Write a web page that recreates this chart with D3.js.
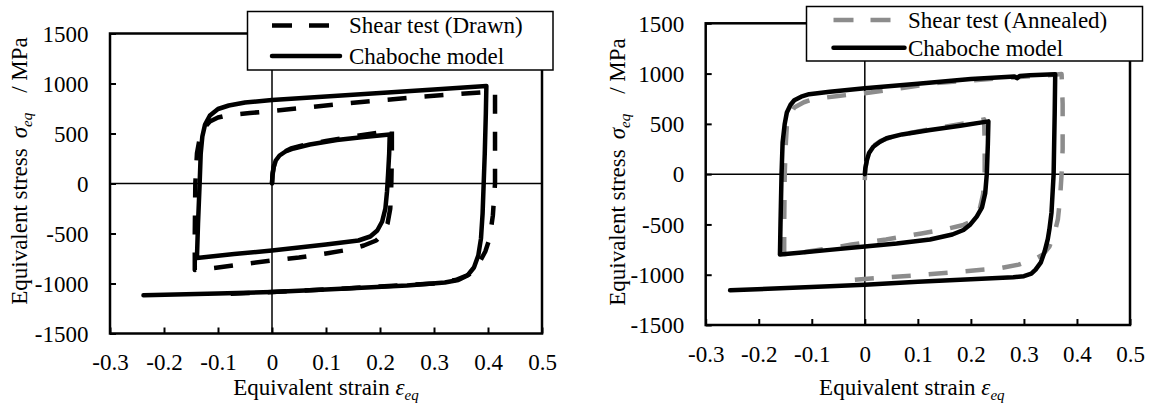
<!DOCTYPE html>
<html><head><meta charset="utf-8">
<script src="https://cdn.jsdelivr.net/npm/d3@7"></script>
</head><body style="margin:0;background:#fff">
<svg id="chart" width="1149" height="406" style="display:block;font-family:'Liberation Serif'"></svg>
<script>
const FONT = "Liberation Serif";
// ---------- tick values & labels ----------
const strainTicks = [-0.3,-0.2,-0.1,0,0.1,0.2,0.3,0.4,0.5];
const strainTickLabels = ["-0.3","-0.2","-0.1","0","0.1","0.2","0.3","0.4","0.5"];
const stressTicks = [-1500,-1000,-500,0,500,1000,1500];
const stressTickLabels = ["-1500","-1000","-500","0","500","1000","1500"];

// ---------- left panel: Drawn ----------
const drawnTestStrain = [0,0.001,0.004,0.01,0.02,0.035,0.06,0.1,0.15,0.2,0.222,0.222,0.221,0.219,0.214,0.206,0.193,0.17,0.144,0.1,0.05,0,-0.05,-0.1,-0.143,-0.143,-0.142,-0.139,-0.134,-0.125,-0.115,-0.1,-0.08,-0.041,0,0.05,0.144,0.28,0.413,0.413,0.413,0.409,0.403,0.395,0.383,0.365,0.34,0.3,0.2,0.1,0,-0.085];
const drawnTestStress = [0,100,190,255,310,350,385,425,470,510,540,300,0,-250,-400,-500,-570,-620,-660,-700,-740,-770,-805,-840,-865,-500,0,300,450,560,620,660,685,705,725,752,804,870,920,500,0,-320,-550,-680,-800,-910,-965,-1000,-1030,-1060,-1085,-1105];
const drawnModelStrain = [0,0.001,0.003,0.007,0.014,0.025,0.04,0.07,0.12,0.17,0.218,0.217,0.215,0.213,0.21,0.204,0.195,0.182,0.16,0.1,0,-0.07,-0.139,-0.137,-0.134,-0.132,-0.129,-0.124,-0.115,-0.1,-0.08,-0.05,0,0.1,0.2,0.3,0.397,0.396,0.394,0.392,0.39,0.387,0.382,0.374,0.362,0.345,0.32,0.25,0.1,0,-0.1,-0.238];
const drawnModelStress = [0,80,160,230,280,320,350,390,435,465,490,300,100,-80,-250,-380,-470,-530,-570,-610,-670,-705,-745,-400,0,300,470,590,680,745,780,810,835,870,905,940,975,700,300,0,-300,-550,-720,-840,-920,-965,-990,-1020,-1060,-1085,-1100,-1118];

// ---------- right panel: Annealed ----------
const annealedTestStrain = [0,0.001,0.004,0.008,0.016,0.03,0.05,0.1,0.15,0.2,0.225,0.226,0.226,0.223,0.217,0.207,0.195,0.186,0.15,0.107,0.04,-0.025,-0.07,-0.113,-0.152,-0.152,-0.151,-0.149,-0.147,-0.14,-0.133,-0.115,-0.098,-0.05,0,0.142,0.28,0.342,0.371,0.373,0.373,0.371,0.368,0.364,0.357,0.348,0.336,0.322,0.308,0.29,0.255,0.18,0.107,0.041,-0.024,-0.035];
const annealedTestStress = [-60,50,150,215,280,330,370,425,470,515,545,300,0,-200,-340,-430,-485,-505,-550,-590,-650,-700,-740,-775,-795,-500,0,300,480,600,662,715,745,778,805,910,962,983,995,700,248,0,-250,-450,-600,-720,-800,-840,-865,-900,-935,-969,-1002,-1025,-1052,-1055];
const annealedModelStrain = [0,0.001,0.004,0.008,0.016,0.028,0.041,0.07,0.123,0.18,0.233,0.232,0.23,0.227,0.221,0.211,0.199,0.186,0.165,0.123,0.06,0,-0.066,-0.16,-0.159,-0.157,-0.155,-0.151,-0.147,-0.14,-0.133,-0.12,-0.105,-0.066,0,0.1,0.2,0.274,0.282,0.287,0.292,0.311,0.359,0.358,0.356,0.352,0.348,0.345,0.339,0.332,0.322,0.314,0.3,0.28,0.2,0.1,0,-0.066,-0.254];
const annealedModelStress = [0,60,141,210,273,320,357,395,439,482,525,300,0,-190,-330,-422,-500,-555,-600,-650,-690,-720,-753,-800,-500,0,315,500,613,690,735,770,795,820,854,900,945,969,972,955,975,983,993,600,0,-381,-550,-646,-770,-877,-950,-990,-1015,-1025,-1045,-1070,-1100,-1115,-1155];

const legendDrawn = ["Shear test (Drawn)","Chaboche model"];
const legendAnnealed = ["Shear test (Annealed)","Chaboche model"];

const svg = d3.select("#chart");
const zip = (xs, ys) => xs.map((v,i)=>[v, ys[i]]);

function txt(sel){ return sel.style("font-family",FONT).attr("fill","#000"); }

function panel(o){
  const x = d3.scaleLinear().domain([-0.3,0.5]).range([o.x0,o.x1]);
  const y = d3.scaleLinear().domain([-1500,1500]).range([o.y1,o.y0]);
  const g = svg.append("g");

  // zero lines
  g.append("line").attr("x1",x(0)).attr("x2",x(0)).attr("y1",y(1500)).attr("y2",y(-1500))
    .attr("stroke","#000").attr("stroke-width",1.5);
  g.append("line").attr("x1",x(-0.3)).attr("x2",x(0.5)).attr("y1",y(0)).attr("y2",y(0))
    .attr("stroke","#000").attr("stroke-width",1.5);

  // axes
  const ax = g.append("g").attr("transform",`translate(0,${y(-1500)})`)
    .call(d3.axisBottom(x).tickValues(strainTicks).tickFormat((d,i)=>strainTickLabels[i]).tickSizeInner(-6).tickSizeOuter(0));
  ax.attr("font-family",FONT);
  ax.select(".domain").remove();
  ax.selectAll(".tick line").attr("stroke","#000").attr("stroke-width",2);
  txt(ax.selectAll(".tick text")).attr("y",36.5).attr("dy",0).style("font-size","23px");

  const ay = g.append("g").attr("transform",`translate(${x(-0.3)},0)`)
    .call(d3.axisLeft(y).tickValues(stressTicks).tickFormat((d,i)=>stressTickLabels[i]).tickSizeInner(-6).tickSizeOuter(0));
  ay.attr("font-family",FONT);
  ay.select(".domain").remove();
  ay.selectAll(".tick line").attr("stroke","#000").attr("stroke-width",2);
  txt(ay.selectAll(".tick text")).attr("x",-21.5).attr("dy","0.34em").style("font-size","23px");

  // frame
  g.append("rect").attr("x",x(-0.3)).attr("y",y(1500)).attr("width",x(0.5)-x(-0.3)).attr("height",y(-1500)-y(1500))
    .attr("fill","none").attr("stroke","#000").attr("stroke-width",2.5);

  const line = d3.line().x(d=>x(d[0])).y(d=>y(d[1]));
  g.append("path").attr("d",line(zip(o.testStrain,o.testStress))).attr("fill","none")
    .attr("stroke",o.testColor).attr("stroke-width",4.5).attr("stroke-dasharray","19,18")
    .attr("stroke-linejoin","round");
  g.append("path").attr("d",line(zip(o.modelStrain,o.modelStress))).attr("fill","none")
    .attr("stroke","#000").attr("stroke-width",4.5).attr("stroke-linejoin","round").attr("stroke-linecap","round");

  // x title
  const xt = txt(g.append("text")).attr("x",(o.x0+o.x1)/2 + o.xtShift).attr("y",395).attr("text-anchor","middle").style("font-size","23px");
  xt.append("tspan").text("Equivalent strain ");
  xt.append("tspan").attr("font-style","italic").text("ε");
  xt.append("tspan").attr("font-style","italic").attr("dy",5).style("font-size","15px").text("eq");

  // y title
  const yt = txt(g.append("text")).attr("transform",`translate(${o.ytX},${o.ytY}) rotate(-90)`)
    .attr("text-anchor","middle").style("font-size","23px");
  yt.append("tspan").text("Equivalent stress");
  yt.append("tspan").attr("dx",10).attr("font-style","italic").text("σ");
  yt.append("tspan").attr("dy",5).attr("font-style","italic").style("font-size","15px").text("eq");
  yt.append("tspan").attr("dy",-5).attr("dx",20).text("/ MPa");

  // legend
  const L = o.legend;
  g.append("rect").attr("x",L.x).attr("y",L.y).attr("width",L.w).attr("height",L.h)
    .attr("fill","#fff").attr("stroke","#000").attr("stroke-width",1.5);
  g.append("line").attr("x1",L.lx).attr("x2",L.lx+58).attr("y1",L.r1).attr("y2",L.r1)
    .attr("stroke",o.testColor).attr("stroke-width",4.5).attr("stroke-dasharray","20,17");
  g.append("line").attr("x1",L.lx).attr("x2",L.lx+L.solidLen).attr("y1",L.r2).attr("y2",L.r2)
    .attr("stroke","#000").attr("stroke-width",4.5).attr("stroke-linecap","round");
  txt(g.append("text")).attr("x",L.tx).attr("y",L.r1+7.8).style("font-size","23px").text(o.legendNames[0]);
  txt(g.append("text")).attr("x",L.tx).attr("y",L.r2+7.8).style("font-size","23px").text(o.legendNames[1]);
}

panel({x0:110,x1:542,y0:33.5,y1:333.5,
  testStrain:drawnTestStrain,testStress:drawnTestStress,
  modelStrain:drawnModelStrain,modelStress:drawnModelStress,
  testColor:"#000",legendNames:legendDrawn,xtShift:0,ytX:27,ytY:171,
  legend:{x:247.5,y:11.5,w:305.5,h:58.5,lx:272,solidLen:68,tx:349,r1:25.5,r2:56}});

panel({x0:705.7,x1:1130,y0:23.3,y1:325,
  testStrain:annealedTestStrain,testStress:annealedTestStress,
  modelStrain:annealedModelStrain,modelStress:annealedModelStress,
  testColor:"#8c8c8c",legendNames:legendAnnealed,xtShift:-6,ytX:625,ytY:172,
  legend:{x:806.5,y:6.5,w:336,h:54.5,lx:833.5,solidLen:71,tx:908,r1:20,r2:47.7}});
</script>
</body></html>
